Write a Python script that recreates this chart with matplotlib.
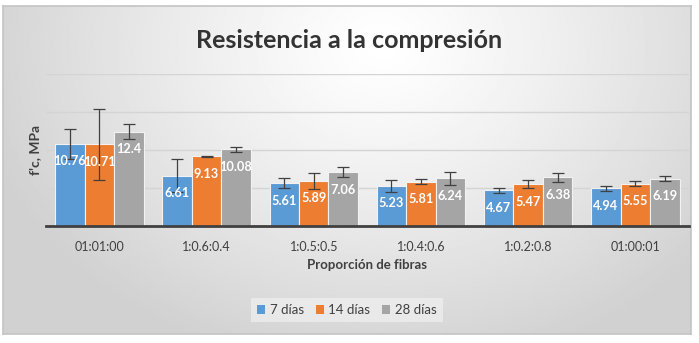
import matplotlib
matplotlib.use('Agg')
import matplotlib.pyplot as plt
from matplotlib.patches import Patch
import numpy as np

categories = ['01:01:00', '1:0.6:0.4', '1:0.5:0.5', '1:0.4:0.6', '1:0.2:0.8', '01:00:01']
series_names = ['7 días', '14 días', '28 días']
dias_7 = [10.76, 6.61, 5.61, 5.23, 4.67, 4.94]
dias_14 = [10.71, 9.13, 5.89, 5.81, 5.47, 5.55]
dias_28 = [12.4, 10.08, 7.06, 6.24, 6.38, 6.19]
err_7 = [1.93, 2.2, 0.7, 0.75, 0.3, 0.3]
err_14 = [4.7, 0.05, 1.1, 0.3, 0.5, 0.35]
err_28 = [1.0, 0.3, 0.7, 0.85, 0.6, 0.35]
labels_7 = ['10.76', '6.61', '5.61', '5.23', '4.67', '4.94']
labels_14 = ['10.71', '9.13', '5.89', '5.81', '5.47', '5.55']
labels_28 = ['12.4', '10.08', '7.06', '6.24', '6.38', '6.19']

colors = ['#5B9BD5', '#ED7D31', '#A5A5A5']
text_col = '#404040'

fig = plt.figure(figsize=(6.99, 3.43), dpi=100)
fig.patch.set_facecolor('white')

# gradient background inside the chart frame
bg = fig.add_axes([3/699, 1-334/343, 688/699, 328/343])
gx, gy = np.meshgrid(np.linspace(0, 1, 400), np.linspace(0, 1, 200))
r = np.sqrt(((gx - 0.55) / 0.6) ** 2 + ((gy - 0.12) / 1.0) ** 2)
shade = 1.0 - 0.18 * np.clip(r, 0, 1) ** 1.2
bg.imshow(shade, cmap='gray', vmin=0, vmax=1, aspect='auto', extent=(0, 1, 1, 0))
bg.set_xlim(0, 1)
bg.set_ylim(1, 0)
bg.set_xticks([])
bg.set_yticks([])
for s in bg.spines.values():
    s.set_color('#c4c4c4')
    s.set_linewidth(1.2)

ax = fig.add_axes([45.7/699, 1-225.7/343, 643.3/699, 151.7/343])
ax.patch.set_alpha(0)
ax.set_ylim(0, 20)
ax.set_xlim(-0.5, len(categories) - 0.5)

x = np.arange(len(categories))
w = 0.275
series = [(dias_7, err_7, labels_7), (dias_14, err_14, labels_14), (dias_28, err_28, labels_28)]
for k, (vals, errs, labs) in enumerate(series):
    pos = x + (k - 1) * w
    ax.bar(pos, vals, w, color=colors[k], edgecolor='#f2f2f2', linewidth=0.8, zorder=2,
           label=series_names[k])
    ax.errorbar(pos, vals, yerr=errs, fmt='none', ecolor=text_col, elinewidth=0.9,
                capsize=4.5, capthick=0.9, zorder=3)
    for px, v, t in zip(pos, vals, labs):
        ax.annotate(t, (px, v), xytext=(0, -12.5), textcoords='offset points',
                    ha='center', va='center', color='white', fontsize=9.2,
                    fontweight='bold', family='Lato', zorder=4)

ax.set_yticks([5, 10, 15, 20])
ax.set_yticklabels([])
ax.yaxis.grid(True, color='#d4d4d4', linewidth=1.0, zorder=0)
ax.set_axisbelow(True)
ax.tick_params(axis='both', length=0)
ax.set_xticks(x)
ax.set_xticklabels(categories, fontsize=9, color=text_col, family='Lato')
ax.tick_params(axis='x', pad=11)
for s in ['top', 'right', 'left']:
    ax.spines[s].set_visible(False)
ax.spines['bottom'].set_color(text_col)
ax.spines['bottom'].set_linewidth(2)
ax.spines['bottom'].set_zorder(5)

fig.text(0.5, 1 - 40/343, 'Resistencia a la compresión', ha='center', va='center',
         fontsize=18, fontweight='bold', color='#333333', family='Lato')
fig.text(35/699, 1 - 150/343, "f'c, MPa", rotation=90, ha='center', va='center',
         fontsize=10, fontweight='bold', color=text_col, family='Lato')
fig.text(367/699, 1 - 265/343, 'Proporción de fibras', ha='center', va='center',
         fontsize=9.5, fontweight='bold', color=text_col, family='Lato')

handles = [Patch(facecolor=c, edgecolor='none') for c in colors]
leg = fig.legend(handles, series_names, loc='center', bbox_to_anchor=(347/699, 1 - 310/343),
                 ncol=3, frameon=True, handlelength=0.6, handleheight=0.6,
                 handletextpad=0.35, columnspacing=0.9, borderpad=0.45,
                 prop={'family': 'Lato', 'size': 9.5})
leg.get_frame().set_facecolor('#f0f0f0')
leg.get_frame().set_edgecolor('none')
leg.get_frame().set_alpha(0.7)
leg.get_frame().set_boxstyle('square', pad=0.0)
for t in leg.get_texts():
    t.set_color(text_col)

fig.savefig('out.png', dpi=100)
